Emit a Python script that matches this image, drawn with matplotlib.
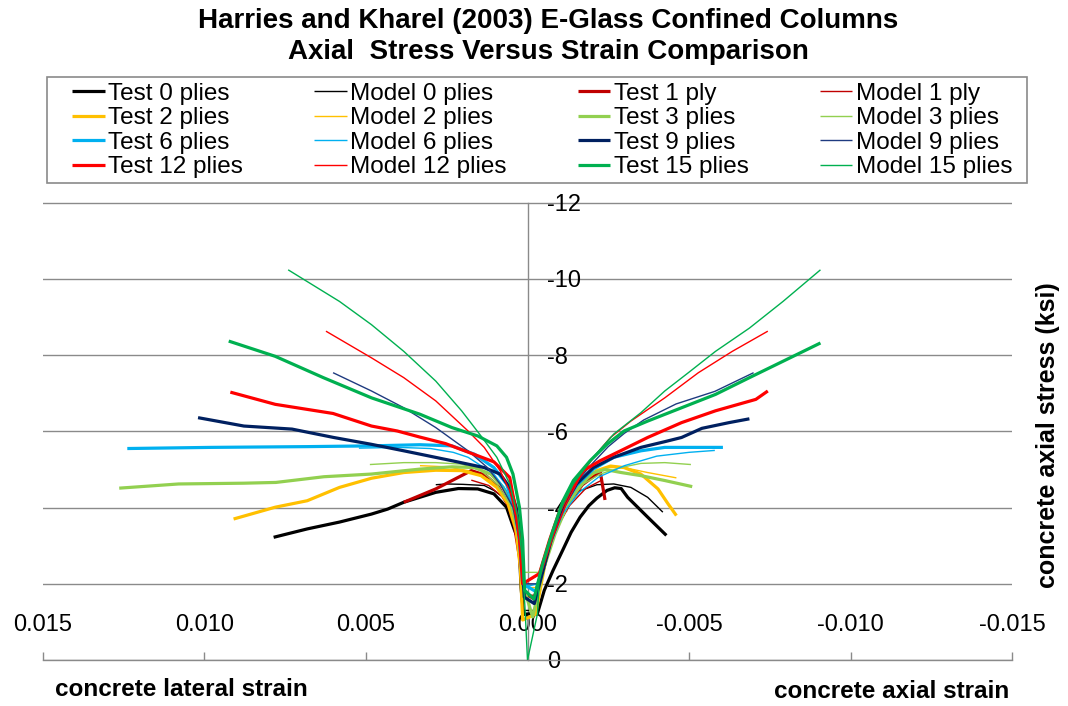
import matplotlib
matplotlib.use("Agg")
import matplotlib.pyplot as plt
from matplotlib import font_manager
from matplotlib.patches import Rectangle
import numpy as np

plt.rcParams['font.family'] = ['Liberation Sans', 'DejaVu Sans']
plt.rcParams['axes.unicode_minus'] = False

# ---------------- data (strain in millistrain: lateral > 0, axial < 0; stress in ksi) -------------
test0_strain = [7.86, 6.82, 5.82, 4.83, 4.33, 3.83, 2.84, 2.14, 1.54, 1.04, 0.65, 0.40, 0.30, 0.24, 0.20, 0.12,
                -0.31, -0.52, -0.79, -1.10, -1.35, -1.63, -1.90, -2.15, -2.46, -2.70, -2.90, -3.10, -3.72, -4.30]
test0_stress = [-3.22, -3.44, -3.62, -3.83, -3.96, -4.14, -4.40, -4.50, -4.49, -4.36, -4.01, -3.40, -3.20, -2.70, -1.90, -1.20,
                -1.23, -1.83, -2.35, -2.90, -3.35, -3.75, -4.05, -4.25, -4.45, -4.52, -4.50, -4.27, -3.75, -3.27]
model0_strain = [2.84, 2.49, 2.00, 1.34, 1.04, 0.75, 0.55, 0.40, 0.30, 0.20, 0.12,
                 -0.20, -0.50, -0.89, -1.20, -1.62, -2.15, -2.67, -3.20, -3.72, -4.19]
model0_stress = [-4.60, -4.62, -4.61, -4.58, -4.45, -4.27, -4.00, -3.49, -3.00, -2.20, -1.30,
                 -1.30, -2.30, -3.57, -4.10, -4.44, -4.60, -4.62, -4.53, -4.27, -3.88]
test1_strain = [3.83, 2.84, 1.74, 1.30, 0.90, 0.60, 0.40, 0.25, 0.15,
                -0.20, -0.50, -0.90, -1.30, -1.70, -2.10, -2.25, -2.32, -2.40]
test1_stress = [-4.14, -4.49, -4.97, -4.85, -4.55, -4.10, -3.50, -2.70, -1.80,
                -1.60, -2.50, -3.50, -4.15, -4.60, -4.85, -4.95, -4.60, -4.20]
model1_strain = [1.74, 1.20, 0.80, 0.55, 0.35, 0.22, 0.14,
                 -0.25, -0.55, -0.90, -1.30, -1.80, -2.30]
model1_stress = [-4.72, -4.58, -4.30, -3.95, -3.40, -2.60, -1.70,
                 -1.70, -2.60, -3.45, -4.05, -4.50, -4.72]
test2_strain = [9.10, 7.81, 6.82, 5.82, 4.83, 3.83, 2.84, 2.04, 1.44, 0.95, 0.60, 0.35, 0.22, 0.15,
                -0.25, -0.58, -0.89, -1.31, -1.73, -2.15, -2.57, -2.99, -3.51, -4.04, -4.35, -4.61]
test2_stress = [-3.70, -4.01, -4.18, -4.53, -4.77, -4.92, -4.98, -4.97, -4.84, -4.53, -4.10, -3.40, -2.40, -1.05,
                -1.20, -2.70, -3.57, -4.27, -4.71, -4.97, -5.09, -5.05, -4.88, -4.49, -4.10, -3.79]
model2_strain = [3.33, 2.50, 1.84, 1.14, 0.75, 0.45, 0.28, 0.18,
                 -0.30, -0.79, -1.10, -1.52, -1.94, -2.46, -2.99, -3.72, -4.61]
model2_stress = [-5.10, -5.07, -4.97, -4.71, -4.36, -3.75, -2.90, -1.90,
                 -1.90, -3.40, -4.10, -4.58, -4.88, -5.05, -5.05, -4.92, -4.78]
test3_strain = [12.64, 10.80, 8.79, 7.79, 6.30, 4.83, 3.33, 2.34, 1.64, 1.14, 0.75, 0.45, 0.25, 0.15,
                -0.16, -0.50, -0.85, -1.20, -1.60, -2.00, -2.40, -2.90, -3.50, -4.25, -5.10]
test3_stress = [-4.51, -4.62, -4.64, -4.66, -4.81, -4.88, -5.01, -5.07, -5.05, -4.88, -4.53, -4.01, -3.23, -2.00,
                -1.13, -2.40, -3.30, -4.00, -4.55, -4.90, -5.00, -4.92, -4.84, -4.71, -4.55]
model3_strain = [4.88, 3.83, 2.84, 2.04, 1.44, 0.95, 0.55, 0.30, 0.18,
                 -0.35, -0.89, -1.31, -1.73, -2.25, -2.88, -3.51, -4.25, -5.06]
model3_stress = [-5.13, -5.18, -5.18, -5.14, -4.97, -4.62, -4.10, -3.31, -2.30,
                 -2.30, -3.49, -4.18, -4.62, -4.88, -5.05, -5.16, -5.18, -5.13]
test6_strain = [12.39, 9.80, 6.81, 4.83, 3.33, 2.34, 1.64, 1.04, 0.65, 0.40, 0.25, 0.15,
                -0.25, -0.73, -1.10, -1.52, -2.04, -2.67, -3.51, -4.25, -5.29, -6.05]
test6_stress = [-5.55, -5.58, -5.60, -5.62, -5.65, -5.62, -5.40, -5.05, -4.62, -4.01, -3.14, -2.00,
                -1.80, -3.14, -4.01, -4.58, -5.01, -5.32, -5.49, -5.58, -5.58, -5.58]
model6_strain = [5.22, 4.00, 3.00, 2.30, 1.84, 1.04, 0.65, 0.35, 0.22, 0.15,
                 -0.30, -0.70, -1.10, -1.60, -2.20, -3.00, -4.00, -5.00, -5.80]
model6_stress = [-5.56, -5.58, -5.55, -5.45, -5.32, -4.88, -4.44, -3.75, -2.80, -1.90,
                 -2.00, -3.00, -3.85, -4.40, -4.80, -5.10, -5.35, -5.45, -5.50]
test9_strain = [10.20, 8.78, 7.29, 6.00, 4.83, 3.83, 2.34, 1.34, 0.85, 0.55, 0.35, 0.20, 0.10,
                -0.21, -0.73, -1.10, -1.52, -2.04, -2.67, -3.51, -4.25, -4.77, -5.40, -6.24, -6.87]
test9_stress = [-6.36, -6.14, -6.06, -5.84, -5.66, -5.49, -5.23, -5.05, -4.88, -4.53, -4.01, -3.14, -1.65,
                -1.48, -3.14, -4.01, -4.62, -5.05, -5.32, -5.58, -5.73, -5.84, -6.08, -6.23, -6.33]
model9_strain = [6.02, 4.83, 3.83, 2.84, 1.84, 1.24, 0.85, 0.45, 0.25, 0.15,
                 -0.30, -0.80, -1.20, -1.60, -2.00, -2.50, -3.00, -3.60, -4.60, -5.80, -7.00]
model9_stress = [-7.54, -7.06, -6.62, -6.10, -5.49, -5.05, -4.62, -4.01, -3.14, -2.00,
                 -2.00, -3.30, -4.10, -4.75, -5.15, -5.60, -5.95, -6.30, -6.72, -7.05, -7.54]
test12_strain = [9.20, 7.81, 6.02, 4.83, 4.03, 3.33, 2.54, 1.54, 1.04, 0.55, 0.40, 0.25, 0.15,
                 -0.37, -0.68, -1.00, -1.31, -1.73, -2.25, -2.88, -3.72, -4.77, -5.82, -7.07, -7.44]
test12_stress = [-7.03, -6.71, -6.47, -6.14, -6.01, -5.85, -5.68, -5.36, -5.20, -4.79, -4.10, -3.23, -2.00,
                 -2.27, -3.14, -3.92, -4.44, -4.97, -5.23, -5.49, -5.84, -6.23, -6.54, -6.84, -7.06]
model12_strain = [6.24, 4.83, 3.83, 2.84, 1.84, 1.34, 0.85, 0.55, 0.35, 0.23, 0.15,
                  -0.42, -0.79, -1.20, -1.62, -2.04, -2.57, -3.20, -4.25, -5.29, -6.34, -7.44]
model12_stress = [-8.63, -7.93, -7.41, -6.80, -6.01, -5.58, -4.97, -4.44, -3.75, -2.88, -2.00,
                  -2.27, -3.23, -4.10, -4.79, -5.32, -5.84, -6.27, -6.88, -7.54, -8.10, -8.63]
test15_strain = [9.25, 7.81, 6.32, 4.83, 3.33, 2.34, 1.54, 0.95, 0.65, 0.45, 0.25, 0.15, 0.09,
                 -0.20, -0.47, -0.79, -1.10, -1.42, -1.94, -2.46, -2.99, -3.72, -4.77, -5.82, -6.87, -7.91, -9.07]
test15_stress = [-8.37, -7.97, -7.41, -6.88, -6.45, -6.10, -5.88, -5.62, -5.32, -4.88, -4.01, -3.14, -1.83,
                 -1.60, -2.53, -3.40, -4.18, -4.71, -5.23, -5.66, -6.01, -6.27, -6.62, -6.97, -7.41, -7.84, -8.32]
model15_strain = [7.41, 5.82, 4.83, 3.83, 2.84, 2.04, 1.44, 0.95, 0.55, 0.30, 0.17, 0.08, 0.00,
                  -0.31, -0.37, -0.68, -1.00, -1.42, -1.94, -2.67, -3.51, -4.25, -4.98, -5.82, -6.87, -7.91, -9.07]
model15_stress = [-10.24, -9.41, -8.80, -8.10, -7.32, -6.54, -5.88, -5.32, -4.62, -3.75, -2.70, -1.40, 0.00,
                  -1.22, -2.27, -3.14, -3.92, -4.62, -5.23, -5.93, -6.49, -7.06, -7.54, -8.10, -8.71, -9.41, -10.24]

series_labels = ["Test 0 plies", "Model 0 plies", "Test 1 ply", "Model 1 ply",
                 "Test 2 plies", "Model 2 plies", "Test 3 plies", "Model 3 plies",
                 "Test 6 plies", "Model 6 plies", "Test 9 plies", "Model 9 plies",
                 "Test 12 plies", "Model 12 plies", "Test 15 plies", "Model 15 plies"]
series_strain = [test0_strain, model0_strain, test1_strain, model1_strain,
                 test2_strain, model2_strain, test3_strain, model3_strain,
                 test6_strain, model6_strain, test9_strain, model9_strain,
                 test12_strain, model12_strain, test15_strain, model15_strain]
series_stress = [test0_stress, model0_stress, test1_stress, model1_stress,
                 test2_stress, model2_stress, test3_stress, model3_stress,
                 test6_stress, model6_stress, test9_stress, model9_stress,
                 test12_stress, model12_stress, test15_stress, model15_stress]
series_colors = ["#000000", "#000000", "#C00000", "#C00000",
                 "#FFC000", "#FFC000", "#92D050", "#92D050",
                 "#00B0F0", "#00B0F0", "#002060", "#1F3B80",
                 "#FF0000", "#FF0000", "#00B050", "#00B050"]

x_ticks = [0.015, 0.010, 0.005, 0.0, -0.005, -0.010, -0.015]
x_ticklabels = ["0.015", "0.010", "0.005", "0.000", "-0.005", "-0.010", "-0.015"]
y_ticks = [0, -2, -4, -6, -8, -10, -12]
y_ticklabels = ["0", "-2", "-4", "-6", "-8", "-10", "-12"]

title_lines = ["Harries and Kharel (2003) E-Glass Confined Columns",
               "Axial  Stress Versus Strain Comparison"]

# ---------------- figure ----------------
W, H = 1068, 706
fig = plt.figure(figsize=(W / 100, H / 100), dpi=100)
ax = fig.add_axes([43 / W, 1 - 660 / H, (1012 - 43) / W, (660 - 202) / H])

grid_c = "#8a8a8a"
for i, lab in enumerate(series_labels):
    thick = lab.startswith("Test")
    ax.plot(np.array(series_strain[i]) * 1e-3, series_stress[i], color=series_colors[i],
            lw=2.3 if thick else 1.0, label=lab, zorder=3 + i * 0.01,
            solid_joinstyle='round', solid_capstyle='butt')

ax.set_xlim(0.015, -0.015)
ax.set_ylim(0, -12.02)

for s in ["left", "top"]:
    ax.spines[s].set_visible(False)
ax.spines["bottom"].set_color(grid_c)
ax.spines["bottom"].set_linewidth(1.0)
ax.spines["right"].set_position(("data", 0))
ax.spines["right"].set_color(grid_c)
ax.spines["right"].set_linewidth(1.0)
ax.spines["right"].set_bounds(0, -12)

ax.set_xticks(x_ticks)
ax.set_xticklabels([])
ax.tick_params(axis="x", direction="in", length=6, color=grid_c, width=1.0)
for xv, xl in zip(x_ticks, x_ticklabels):
    ax.text(xv, 0.077, xl, transform=ax.get_xaxis_transform(), ha="center", va="center",
            fontsize=17, zorder=1)

ax.yaxis.tick_right()
ax.set_yticks(y_ticks)
ax.set_yticklabels(y_ticklabels)
ax.tick_params(axis="y", length=0, pad=14, labelsize=17)
ax.yaxis.grid(True, color=grid_c, lw=1.0, zorder=0)
ax.set_axisbelow(True)

# legend, reordered so rows read left-to-right as in the original
order = []
for c in range(4):
    for r in range(4):
        order.append(r * 4 + c)
handles, labels = ax.get_legend_handles_labels()
leg = ax.legend([handles[k] for k in order], [labels[k] for k in order],
                ncol=4, loc="center", mode="expand",
                bbox_to_anchor=(72 / W, 1 - 180 / H, (1012 - 72) / W, (180 - 81) / H),
                bbox_transform=fig.transFigure, fontsize=17.5, frameon=False,
                borderpad=0, labelspacing=0.1, handlelength=1.35,
                handletextpad=0.13, borderaxespad=0, columnspacing=1.0)
fig.patches.append(Rectangle((47 / W, 1 - 183 / H), (1027 - 47) / W, (183 - 77) / H,
                             transform=fig.transFigure, fill=False, edgecolor=grid_c, lw=1.2))

# title: narrow bold face if available
names = {f.name for f in font_manager.fontManager.ttflist}
if "Liberation Sans Narrow" in names:
    tfam, tsize = ["Liberation Sans Narrow", "Liberation Sans"], 24
else:
    tfam, tsize = ["Liberation Sans", "DejaVu Sans"], 20
fig.text(548 / W, 1 - 21 / H, title_lines[0], ha="center", va="center",
         fontsize=tsize, fontweight="bold", family=tfam)
fig.text(548 / W, 1 - 52 / H, title_lines[1], ha="center", va="center",
         fontsize=tsize, fontweight="bold", family=tfam)

fig.text(181 / W, 1 - 690 / H, "concrete lateral strain", ha="center", va="center",
         fontsize=17.5, fontweight="bold")
fig.text(892 / W, 1 - 691 / H, "concrete axial strain", ha="center", va="center",
         fontsize=17.5, fontweight="bold")
fig.text(1048 / W, 1 - 435 / H, "concrete axial stress (ksi)", ha="center", va="center",
         rotation=90, fontsize=18, fontweight="bold")

fig.savefig("out.png", dpi=100)
